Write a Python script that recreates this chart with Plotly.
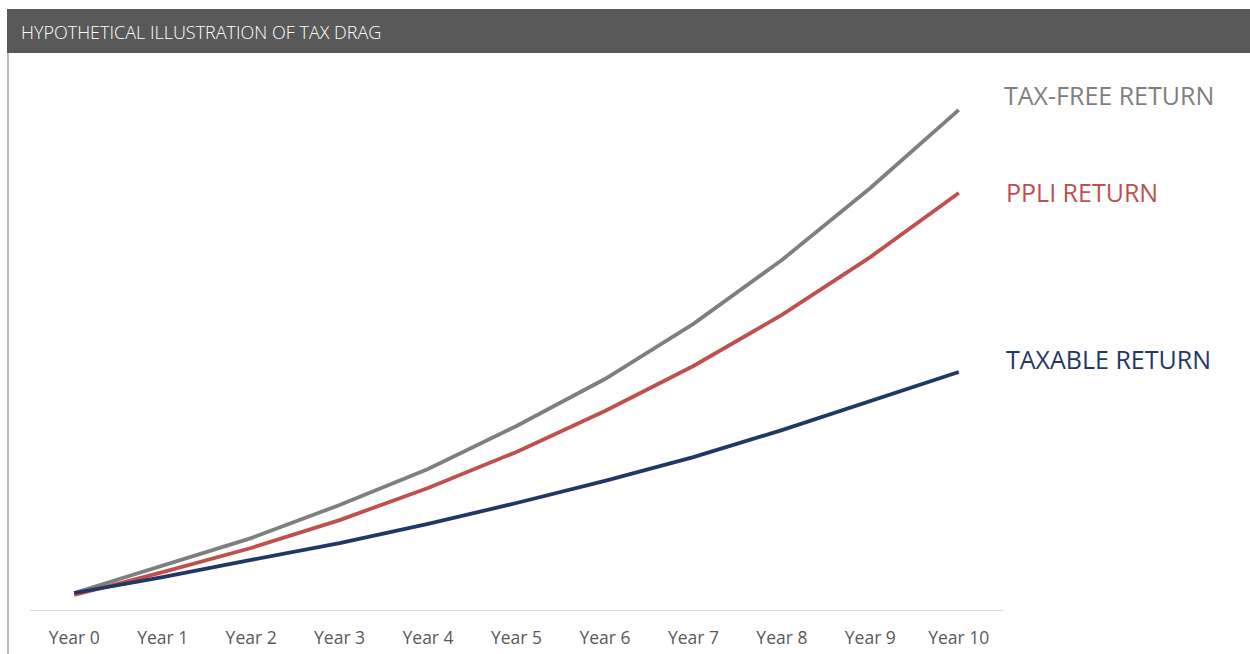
import plotly.graph_objects as go

years = ["Year 0", "Year 1", "Year 2", "Year 3", "Year 4", "Year 5",
         "Year 6", "Year 7", "Year 8", "Year 9", "Year 10"]
tax_free = [1000, 1120, 1244, 1391, 1551, 1742, 1951, 2196, 2480, 2800, 3147]
ppli = [991, 1093, 1200, 1324, 1467, 1627, 1809, 2009, 2236, 2493, 2778]
taxable = [1000, 1071, 1147, 1222, 1307, 1400, 1498, 1604, 1724, 1853, 1982]

series_names = ["TAX-FREE RETURN", "PPLI RETURN", "TAXABLE RETURN"]
colors = ["#7F7F7F", "#C0504D", "#1F3864"]

W, H = 1250, 654
FONT = "Open Sans"

fig = go.Figure()
for name, vals, col in zip(series_names, [tax_free, ppli, taxable], colors):
    fig.add_trace(go.Scatter(x=years, y=vals, mode="lines", name=name,
                             line=dict(color=col, width=3.8), hoverinfo="skip"))

y_lo = 1000 * (1 + (593 - 610) / 225)
y_hi = 1000 * (1 + (593 - 53) / 225)

fig.update_layout(
    width=W, height=H,
    margin=dict(l=0, r=0, t=0, b=0),
    paper_bgcolor="white", plot_bgcolor="white",
    showlegend=False,
    xaxis=dict(domain=[30 / W, 1003 / W], range=[-0.5, 10.5],
               showgrid=False, zeroline=False, showline=True,
               linecolor="#D9D9D9", linewidth=1.3,
               ticks="", ticklabelstandoff=12,
               tickfont=dict(family=FONT, size=17.5, color="#595959")),
    yaxis=dict(domain=[44 / H, (H - 53) / H], range=[y_lo, y_hi],
               showgrid=False, zeroline=False, showticklabels=False,
               showline=False),
    shapes=[
        dict(type="rect", xref="paper", yref="paper",
             x0=7 / W, x1=1, y0=(H - 53) / H, y1=(H - 9) / H,
             fillcolor="#595959", line=dict(width=0), layer="below"),
        dict(type="line", xref="paper", yref="paper",
             x0=8 / W, x1=8 / W, y0=0, y1=(H - 53) / H,
             line=dict(color="#8C8C8C", width=1.2)),
    ],
    annotations=[
        dict(text="HYPOTHETICAL ILLUSTRATION OF TAX DRAG", xref="paper", yref="paper",
             x=19 / W, y=(H - 32) / H, xanchor="left", yanchor="middle", showarrow=False,
             font=dict(family=FONT, size=18, color="white", weight=300)),
        dict(text=series_names[0], xref="paper", yref="paper",
             x=1002 / W, y=(H - 95) / H, xanchor="left", yanchor="middle", showarrow=False,
             font=dict(family=FONT, size=25, color=colors[0])),
        dict(text=series_names[1], xref="paper", yref="paper",
             x=1004 / W, y=(H - 192) / H, xanchor="left", yanchor="middle", showarrow=False,
             font=dict(family=FONT, size=25, color=colors[1])),
        dict(text=series_names[2], xref="paper", yref="paper",
             x=1004 / W, y=(H - 359) / H, xanchor="left", yanchor="middle", showarrow=False,
             font=dict(family=FONT, size=25, color=colors[2])),
    ],
)

fig.write_html("out.html")
